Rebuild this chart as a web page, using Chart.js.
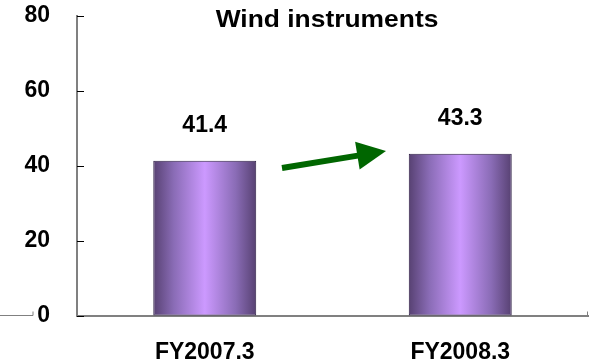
<!DOCTYPE html>
<html>
<head>
<meta charset="utf-8">
<script src="https://cdn.jsdelivr.net/npm/chart.js@4/dist/chart.umd.min.js"></script>
<style>
  html, body { margin: 0; padding: 0; background: #fff; }
  #wrap { width: 592px; height: 364px; position: relative; }
</style>
</head>
<body>
<div id="wrap"><canvas id="c" width="592" height="364"></canvas></div>
<script>
const categories = ['FY2007.3', 'FY2008.3'];
const sales = [41.4, 43.3];
const yTicks = [0, 20, 40, 60, 80];
const chartTitle = 'Wind instruments';

const FONT = '"Liberation Sans", Arial, sans-serif';

function barGradient(ctx) {
  const chart = ctx.chart;
  const area = chart.chartArea;
  const xs = chart.scales.x;
  if (!area || !xs) return '#a07cd0';
  const cw = (area.right - area.left) / categories.length;
  const half = cw * 0.403 / 2;
  const cx = xs.getPixelForValue(ctx.dataIndex);
  const g = chart.ctx.createLinearGradient(cx - half, 0, cx + half, 0);
  g.addColorStop(0, '#574172');
  g.addColorStop(0.2, '#8a6cb6');
  g.addColorStop(0.5, '#cc99ff');
  g.addColorStop(0.8, '#8a6cb6');
  g.addColorStop(1, '#574172');
  return g;
}

const decorations = {
  id: 'decorations',
  afterDraw(chart) {
    const c = chart.ctx;
    const area = chart.chartArea;
    const ys = chart.scales.y;
    const meta = chart.getDatasetMeta(0);
    c.save();

    // inward tick marks on the value axis
    c.strokeStyle = '#000';
    c.lineWidth = 1;
    yTicks.forEach(v => {
      const y = Math.round(ys.getPixelForValue(v)) + 0.5;
      c.beginPath();
      c.moveTo(area.left, y);
      c.lineTo(area.left + 7, y);
      c.stroke();
    });

    // short baseline stub at the far left
    const y0 = Math.round(ys.getPixelForValue(0)) - 0.5;
    c.strokeStyle = '#808080';
    c.beginPath();
    c.moveTo(0, y0);
    c.lineTo(33, y0);
    c.lineTo(33, y0 - 4);
    c.stroke();

    // small end tick on the category axis
    c.beginPath();
    c.moveTo(area.right - 0.5, y0 + 1);
    c.lineTo(area.right - 0.5, y0 - 4);
    c.stroke();

    // value labels above bars
    c.fillStyle = '#000';
    c.font = 'bold 23px ' + FONT;
    c.textAlign = 'center';
    c.textBaseline = 'alphabetic';
    meta.data.forEach((bar, i) => {
      c.fillText(sales[i].toFixed(1), bar.x, bar.y - 29);
    });

    // title, slightly widened
    c.save();
    c.translate(327, 27);
    c.scale(1.1, 1);
    c.font = 'bold 24px ' + FONT;
    c.fillText(chartTitle, 0, 0);
    c.restore();

    // growth arrow between the bars
    const x1 = 282, yA = 168, x2 = 386, yB = 151;
    const ang = Math.atan2(yB - yA, x2 - x1);
    const headLen = 29, headHalf = 14;
    const bx = x2 - headLen * Math.cos(ang), by = yB - headLen * Math.sin(ang);
    c.strokeStyle = '#006600';
    c.fillStyle = '#006600';
    c.lineWidth = 6;
    c.beginPath();
    c.moveTo(x1, yA);
    c.lineTo(bx + 2 * Math.cos(ang), by + 2 * Math.sin(ang));
    c.stroke();
    c.beginPath();
    c.moveTo(x2, yB);
    c.lineTo(bx - headHalf * Math.sin(ang), by + headHalf * Math.cos(ang));
    c.lineTo(bx + headHalf * Math.sin(ang), by - headHalf * Math.cos(ang));
    c.closePath();
    c.fill();

    c.restore();
  }
};

new Chart(document.getElementById('c'), {
  type: 'bar',
  data: {
    labels: categories,
    datasets: [{
      data: sales,
      backgroundColor: barGradient,
      borderColor: '#2e1f45',
      borderWidth: 1,
      borderSkipped: false,
      barPercentage: 0.403,
      categoryPercentage: 1
    }]
  },
  options: {
    responsive: false,
    animation: false,
    events: [],
    layout: { padding: { top: 16, right: 4, left: 0, bottom: 0 } },
    plugins: { legend: { display: false }, tooltip: { enabled: false }, title: { display: false } },
    scales: {
      y: {
        min: 0, max: 80,
        afterFit(s) { s.width = 77; s.paddingTop = 0; s.paddingBottom = 0; },
        afterBuildTicks(s) { s.ticks = yTicks.map(v => ({ value: v })); },
        grid: { drawOnChartArea: false, drawTicks: false },
        border: { color: '#808080', width: 2 },
        ticks: {
          padding: 27,
          color: '#000',
          font: { family: FONT, size: 23, weight: 'bold' }
        }
      },
      x: {
        afterFit(s) { s.height = 48; s.paddingLeft = 0; s.paddingRight = 0; },
        grid: { drawOnChartArea: false, drawTicks: false },
        border: { color: '#808080', width: 2 },
        ticks: {
          padding: 23,
          color: '#000',
          font: { family: FONT, size: 23, weight: 'bold' }
        }
      }
    }
  },
  plugins: [decorations]
});
</script>
</body>
</html>
